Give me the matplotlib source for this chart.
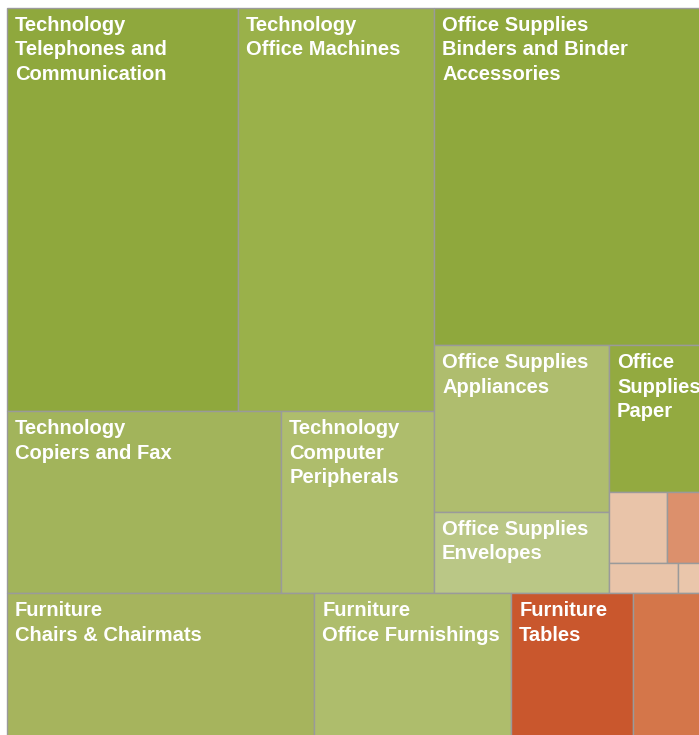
import matplotlib
matplotlib.use("Agg")
import matplotlib.pyplot as plt
from matplotlib.patches import Rectangle

plt.rcParams['font.family'] = ['Liberation Sans', 'DejaVu Sans']

# sub-category sizes (arbitrary units) and colours
tech_names = ["Telephones and\nCommunication", "Office Machines", "Copiers and Fax", "Computer\nPeripherals"]
tech_values = [931, 790, 499, 278]
tech_colors = ["#8fa83d", "#9ab14a", "#a2b45b", "#aebd6c"]

os_names = ["Binders and Binder\nAccessories", "Appliances", "Envelopes", "Supplies\nPaper",
            "", "", "", ""]
os_values = [1099, 292, 142, 222, 41, 65, 21, 25]
os_colors = ["#8fa83d", "#afbd6e", "#bac786", "#93aa40",
             "#e9c4a9", "#dc906c", "#e9c4a9", "#eac6ab"]

furn_names = ["Chairs & Chairmats", "Office Furnishings", "Tables", ""]
furn_values = [574, 368, 228, 237]
furn_colors = ["#a6b45d", "#aebd6c", "#c9572d", "#d4764a"]


def total(node):
    if isinstance(node, tuple):
        return node[1]
    return sum(total(c) for c in node[1])


def layout(node, x, y, w, h, out):
    # node: leaf (label, value, color, group) or [direction, children]
    if isinstance(node, tuple):
        out.append((x, y, w, h) + node)
        return
    direction, children = node
    s = sum(total(c) for c in children)
    for c in children:
        f = total(c) / s
        if direction == "h":
            layout(c, x, y, w * f, h, out)
            x += w * f
        else:
            layout(c, x, y, w, h * f, out)
            y += h * f


def leaf(names, values, colors, i, group):
    return (names[i], values[i], colors[i], group)


T = lambda i: leaf(tech_names, tech_values, tech_colors, i, "Technology")
O = lambda i: leaf(os_names, os_values, os_colors, i, "Office Supplies")
F = lambda i: leaf(furn_names, furn_values, furn_colors, i, "Furniture")

tech = ["v", [["h", [T(0), T(1)]], ["h", [T(2), T(3)]]]]
office = ["v", [O(0), ["h", [["v", [O(1), O(2)]],
                             ["v", [O(3), ["v", [["h", [O(4), O(5)]], ["h", [O(6), O(7)]]]]]]]]]]
furniture = ["h", [F(0), F(1), F(2), F(3)]]
root = ["v", [["h", [tech, office]], furniture]]

cells = []
layout(root, 7, 8, 753, 772, cells)

fig = plt.figure(figsize=(6.99, 7.35), dpi=100)
ax = fig.add_axes([0, 0, 1, 1])
ax.set_xlim(0, 699)
ax.set_ylim(735, 0)
ax.axis("off")

for x, y, w, h, name, value, color, group in cells:
    ax.add_patch(Rectangle((x, y), w, h, facecolor=color, edgecolor="#9a9a9a", linewidth=1.0))
    if name:
        label = group + "\n" + name
        if name.startswith("Supplies"):
            label = "Office\n" + name
        ax.text(x + 8, y + 8, label, color="white", fontsize=14.5, fontweight="bold",
                ha="left", va="top", linespacing=1.36)

fig.savefig("out.png", dpi=100)
